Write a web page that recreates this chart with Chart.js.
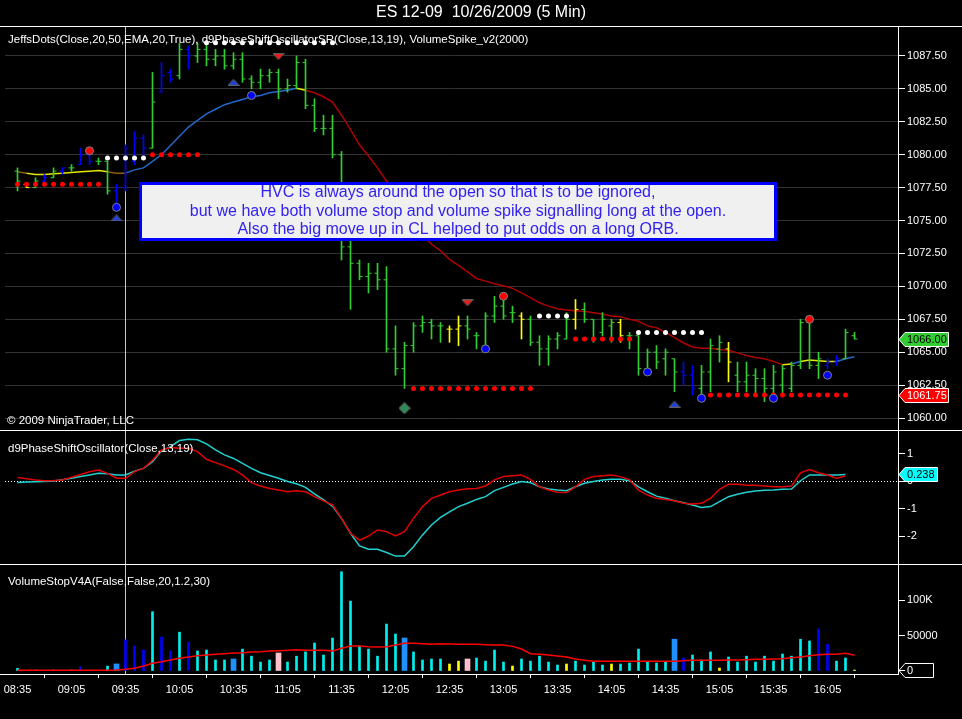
<!DOCTYPE html>
<html>
<head>
<meta charset="utf-8">
<title>ES 12-09 10/26/2009 (5 Min)</title>
<script src="https://cdn.jsdelivr.net/npm/chart.js@4.4.1/dist/chart.umd.min.js"></script>
<style>
  html, body { margin: 0; padding: 0; background: #000; overflow: hidden; }
  canvas { display: block; }
</style>
</head>
<body>
<canvas id="chart" width="962" height="719"></canvas>
<script>
// 5 min bars, index 0 = 08:35 ... 93 = 16:20
const tickBars = [0, 6, 12, 18, 24, 30, 36, 42, 48, 54, 60, 66, 72, 78, 84, 90];
const tickLabels = ['08:35', '09:05', '09:35', '10:05', '10:35', '11:05', '11:35', '12:05',
  '12:35', '13:05', '13:35', '14:05', '14:35', '15:05', '15:35', '16:05'];
const oscTicks = [1, 0, -1, -2];
const volTicks = [0, 50000, 100000];

const opens = [1078.75, 1077.75, 1077.5, 1078.0, 1078.25, 1078.75, 1079.0, 1079.25, 1080.0, 1079.5,
  1079.5, 1077.25, 1077.5, 1079.5, 1081.25, 1080.5, 1084.75, 1086.25, 1086.0, 1088.0,
  1087.5, 1088.0, 1087.25, 1087.5, 1086.75, 1087.25, 1085.75, 1085.5, 1086.0, 1086.25,
  1085.0, 1085.25, 1087.0, 1083.75, 1082.0, 1082.0, 1080.0, 1073.0, 1071.75, 1070.75,
  1071.0, 1070.5, 1065.25, 1063.75, 1065.5, 1067.0, 1067.25, 1067.0, 1066.75, 1066.75,
  1067.0, 1066.25, 1065.5, 1067.75, 1068.5, 1068.0, 1067.75, 1067.5, 1065.75, 1065.25,
  1066.0, 1066.0, 1067.5, 1068.25, 1067.5, 1066.5, 1067.0, 1067.25, 1066.25, 1066.25,
  1063.75, 1065.0, 1064.5, 1064.5, 1063.5, 1063.25, 1062.25, 1063.5, 1065.25, 1065.25,
  1063.25, 1062.75, 1063.25, 1063.0, 1062.25, 1062.5, 1062.25, 1064.0, 1067.25, 1064.0,
  1064.0, 1064.25, 1064.5, 1066.25];
const highs = [1079.0, 1077.75, 1078.25, 1078.5, 1079.0, 1079.0, 1079.25, 1080.5, 1080.0, 1079.75,
  1079.5, 1077.75, 1080.75, 1081.75, 1081.5, 1086.25, 1087.0, 1086.5, 1088.5, 1088.25,
  1088.5, 1088.5, 1088.0, 1088.0, 1087.75, 1087.75, 1086.0, 1086.5, 1086.5, 1086.5,
  1085.75, 1087.5, 1087.25, 1084.25, 1083.0, 1083.0, 1080.25, 1074.5, 1072.0, 1071.75,
  1071.75, 1071.5, 1067.0, 1065.75, 1067.25, 1067.75, 1067.5, 1067.25, 1067.0, 1067.75,
  1067.75, 1066.5, 1068.0, 1069.25, 1069.0, 1068.5, 1068.0, 1067.75, 1066.25, 1066.25,
  1066.5, 1068.0, 1069.0, 1068.75, 1067.5, 1068.0, 1067.5, 1067.5, 1066.5, 1066.25,
  1065.25, 1065.5, 1065.25, 1064.5, 1064.25, 1064.0, 1064.0, 1066.0, 1066.25, 1065.75,
  1064.25, 1064.25, 1063.75, 1063.75, 1064.0, 1064.0, 1064.25, 1067.5, 1067.5, 1065.0,
  1064.5, 1064.75, 1066.75, 1066.5];
const lows = [1077.25, 1077.5, 1077.5, 1077.75, 1078.25, 1078.5, 1078.75, 1079.25, 1079.25, 1079.25,
  1077.0, 1076.0, 1077.25, 1079.25, 1079.75, 1080.5, 1084.75, 1085.5, 1085.75, 1086.5,
  1087.0, 1086.75, 1086.75, 1086.5, 1086.5, 1085.5, 1085.0, 1085.0, 1085.5, 1084.25,
  1084.75, 1085.0, 1083.5, 1081.75, 1081.5, 1079.75, 1072.0, 1068.25, 1070.5, 1069.5,
  1069.75, 1065.0, 1063.25, 1062.25, 1065.0, 1066.5, 1066.0, 1065.75, 1065.75, 1065.5,
  1066.0, 1065.25, 1065.25, 1067.25, 1067.5, 1067.25, 1066.0, 1065.5, 1064.0, 1064.0,
  1065.25, 1066.0, 1066.75, 1067.25, 1065.75, 1066.25, 1065.75, 1065.75, 1065.25, 1063.25,
  1063.75, 1063.75, 1063.25, 1062.0, 1062.5, 1061.75, 1061.75, 1062.0, 1064.25, 1062.75,
  1062.0, 1062.0, 1061.75, 1061.25, 1061.75, 1061.75, 1062.0, 1063.75, 1063.75, 1063.0,
  1063.75, 1064.0, 1064.5, 1066.0];
const closes = [1078.0, 1077.5, 1078.0, 1078.25, 1078.75, 1079.0, 1079.0, 1080.0, 1079.5, 1079.5,
  1077.25, 1077.5, 1080.5, 1081.25, 1080.5, 1084.0, 1086.0, 1085.75, 1088.0, 1087.5,
  1088.0, 1087.25, 1087.5, 1086.75, 1087.25, 1085.75, 1085.5, 1086.0, 1086.25, 1085.0,
  1085.25, 1087.0, 1083.75, 1082.0, 1082.0, 1080.0, 1073.0, 1071.75, 1070.75, 1071.0,
  1070.5, 1065.25, 1063.75, 1065.5, 1067.0, 1067.25, 1067.0, 1067.0, 1066.75, 1067.0,
  1066.75, 1066.25, 1067.75, 1068.5, 1067.75, 1068.0, 1067.5, 1065.75, 1065.25, 1066.0,
  1066.25, 1067.5, 1068.25, 1067.5, 1066.0, 1067.5, 1067.25, 1066.25, 1066.25, 1063.75,
  1065.0, 1064.25, 1065.0, 1063.5, 1063.25, 1062.25, 1063.5, 1065.5, 1065.75, 1064.25,
  1062.75, 1063.25, 1063.0, 1062.25, 1063.5, 1063.75, 1064.0, 1067.25, 1064.0, 1064.5,
  1064.25, 1064.5, 1066.5, 1066.0];
// g = green, b = blue, y = yellow (JeffsDots bar colouring)
const barColor = ('gygbgbgbbggbbbbgbbgbg' + 'g'.repeat(27) + 'yyggggggyggggg' + 'ygggg' + 'yggggggbbggg' +
  'ygggggggggg' + 'bbggy').split('');

// moving average line and its trend state (o = turning, f = flat, u = up, d = down)
const ema = [1078.7, 1078.6, 1078.5, 1078.5, 1078.55, 1078.6, 1078.65, 1078.7, 1078.75, 1078.8,
  1078.7, 1078.6, 1078.6, 1078.85, 1079.0, 1079.5, 1080.0, 1080.7, 1081.4, 1082.1,
  1082.6, 1083.1, 1083.45, 1083.8, 1084.0, 1084.2, 1084.4, 1084.5, 1084.7, 1084.8,
  1084.9, 1085.05, 1084.9, 1084.7, 1084.4, 1084.0, 1083.0, 1081.9, 1080.75, 1079.9,
  1079.0, 1078.0, 1077.0, 1076.0, 1075.0, 1073.9, 1073.2, 1072.7, 1072.05, 1071.6,
  1071.1, 1070.6, 1070.4, 1070.2, 1070.05, 1069.85, 1069.5, 1069.15, 1068.75, 1068.5,
  1068.3, 1068.2, 1068.15, 1068.1, 1068.0, 1067.9, 1067.75, 1067.7, 1067.5, 1067.35,
  1067.0, 1066.85, 1066.5, 1066.1, 1065.7, 1065.4, 1065.3, 1065.3, 1065.2, 1065.15,
  1064.95, 1064.75, 1064.6, 1064.5, 1064.3, 1064.05, 1064.1, 1064.3, 1064.4, 1064.35,
  1064.3, 1064.3, 1064.5, 1064.65];
const emaTrend = ('o' + 'f'.repeat(9) + 'oo' + 'u'.repeat(19) + 'f' + 'd'.repeat(53) + 'fu' + 'ffff' + 'uuu').split('');

// stop dots, in runs of bars
const dotStart = [0, 10, 15, 21, 44, 58, 62, 69, 77];
const dotEnd = [9, 14, 20, 35, 57, 61, 68, 76, 92];
const dotLevel = [1077.75, 1079.75, 1080.0, 1088.5, 1062.25, 1067.75, 1066.0, 1066.5, 1061.75];
const dotSide = ['r', 'w', 'r', 'w', 'r', 'w', 'r', 'w', 'r'];

// signal markers
const redCircleBar = [8, 54, 88];
const redCircleAt = [1080.3, 1069.25, 1067.5];
const blueCircleBar = [11, 26, 52, 70, 76, 84, 90];
const blueCircleAt = [1076.0, 1084.5, 1065.25, 1063.5, 1061.5, 1061.5, 1063.25];
const blueTriBar = [11, 24, 73];
const blueTriAt = [1075.2, 1085.5, 1061.05];
const redTriBar = [29, 50];
const redTriAt = [1087.45, 1068.75];
const diamondBar = [43];
const diamondAt = [1060.75];

// d9PhaseShiftOscillator
const oscFast = [-0.05, -0.04, -0.03, -0.02, 0.0, 0.05, 0.1, 0.16, 0.22, 0.28,
  0.26, 0.22, 0.22, 0.36, 0.46, 0.7, 1.1, 1.25, 1.47, 1.52,
  1.5, 1.35, 1.13, 0.95, 0.82, 0.64, 0.46, 0.3, 0.2, 0.1,
  -0.02, -0.1, -0.23, -0.47, -0.69, -0.91, -1.36, -1.9, -2.36, -2.48,
  -2.48, -2.6, -2.73, -2.73, -2.39, -1.96, -1.6, -1.32, -1.12, -0.93,
  -0.81, -0.67, -0.57, -0.35, -0.23, -0.11, -0.02, -0.06, -0.21, -0.29,
  -0.33, -0.35, -0.21, -0.08, -0.02, 0.04, 0.06, 0.06, 0.01, -0.21,
  -0.39, -0.55, -0.63, -0.72, -0.79, -0.87, -0.96, -0.93, -0.75, -0.57,
  -0.48, -0.41, -0.36, -0.34, -0.33, -0.3, -0.29, 0.01, 0.22, 0.22,
  0.22, 0.22, 0.238, null];
const oscSlow = [0.13, 0.08, 0.04, 0.01, 0.02, 0.04, 0.14, 0.24, 0.34, 0.4,
  0.28, 0.1, 0.1, 0.34, 0.46, 0.76, 1.13, 1.22, 1.19, 1.19,
  1.07, 0.79, 0.67, 0.55, 0.42, 0.22, -0.06, -0.18, -0.27, -0.33,
  -0.39, -0.35, -0.39, -0.57, -0.72, -0.87, -1.36, -1.9, -2.15, -2.0,
  -1.78, -1.84, -2.0, -1.84, -1.36, -0.93, -0.63, -0.51, -0.39, -0.33,
  -0.28, -0.27, -0.18, 0.04, 0.16, 0.19, 0.22, 0.06, -0.21, -0.33,
  -0.41, -0.42, -0.21, 0.06, 0.16, 0.19, 0.22, 0.16, 0.04, -0.33,
  -0.51, -0.63, -0.67, -0.72, -0.81, -0.84, -0.81, -0.63, -0.3, -0.12,
  -0.12, -0.15, -0.15, -0.18, -0.21, -0.21, -0.18, 0.3, 0.42, 0.3,
  0.22, 0.1, 0.18, null];

// VolumeStopV4A
const volume = [3800, 900, 1400, 1200, 1300, 1000, 1400, 6000, 1200, 600,
  7000, 10000, 44000, 35400, 29700, 84000, 48000, 28300, 55000, 41000,
  28300, 29700, 15600, 15600, 17000, 31000, 21000, 12700, 15600, 25500,
  12700, 21000, 27000, 39600, 22600, 46700, 140600, 99000, 35400, 31000,
  21000, 66500, 52400, 46700, 27000, 15600, 17000, 17000, 9900, 14000,
  17000, 18400, 14000, 29700, 12700, 7000, 17000, 14000, 21000, 12700,
  8500, 9900, 14000, 8500, 12700, 8500, 9900, 9900, 11300, 31000,
  12700, 11300, 12700, 45000, 18400, 22600, 15600, 27000, 4200, 19800,
  12700, 21000, 12700, 21000, 14000, 24000, 21000, 45000, 42500, 59500,
  38000, 14000, 18400, 1400];
// c = cyan, b = blue, y = yellow, D = volume stop (wide blue), P = spike (wide pink)
const volColor = ('cccbcbcbbccDbbbcbbcb' + 'cccc' + 'D' + 'cccc' + 'P' + 'c'.repeat(13) + 'D' + 'cccc' +
  'yyP' + 'cccc' + 'y' + 'ccccc' + 'y' + 'cccc' + 'y' + 'cccccc' + 'Db' + 'ccc' + 'y' +
  'c'.repeat(10) + 'bbccy').split('');
const volAvg = [1000, 1000, 1000, 1000, 1000, 1000, 1000, 1000, 1000, 1000,
  1000, 1300, 2400, 3800, 7000, 10900, 13200, 15600, 17900, 19800,
  21700, 22700, 23600, 24500, 25500, 26000, 26900, 27400, 28300, 28800,
  29300, 30200, 29300, 29300, 29300, 28300, 32100, 35400, 35400, 34500,
  34000, 34500, 36800, 39200, 39200, 38700, 37800, 38700, 38200, 37800,
  37800, 37800, 37300, 36800, 36800, 34900, 31200, 24500, 23600, 22700,
  21200, 19800, 17000, 15100, 13700, 13700, 13700, 13700, 13700, 13700,
  13700, 13700, 13700, 13700, 14600, 15100, 15100, 15100, 15100, 15600,
  15600, 16000, 16500, 16500, 17000, 17500, 18900, 19800, 21700, 23100,
  23600, 23600, 25000, 22200];

const crossBar = 12;
const noteLines = [
  'HVC is always around the open so that is to be ignored,',
  'but we have both volume stop and volume spike signalling long at the open.',
  'Also the big move up in CL helped to put odds on a long ORB.'
];

const FONT = '"Liberation Sans", Arial, sans-serif';
const barPalette = { g: '#32CD32', b: '#0000FF', y: '#FFFF00' };
const trendPalette = { o: '#8B5A10', f: '#E6E600', u: '#2468C8', d: '#B00000' };
const volPalette = { c: '#00F0F0', b: '#0000FF', y: '#FFFF00', D: '#1E90FF', P: '#FFC0CB' };
const tickOff = 1.5 / 9;

function runPoints(side) {
  const pts = [];
  dotStart.forEach((s, k) => {
    if (dotSide[k] !== side) return;
    for (let i = s; i <= dotEnd[k]; i++) pts.push({ x: i, y: dotLevel[k] });
  });
  return pts;
}

function pairs(bars, vals) {
  return bars.map((b, k) => ({ x: b, y: vals[k] }));
}

function makeTriangle(fill, up) {
  const c = document.createElement('canvas');
  c.width = 12; c.height = 7;
  const g = c.getContext('2d');
  g.beginPath();
  if (up) { g.moveTo(6, 0.5); g.lineTo(11.5, 6.5); g.lineTo(0.5, 6.5); }
  else { g.moveTo(0.5, 0.5); g.lineTo(11.5, 0.5); g.lineTo(6, 6.5); }
  g.closePath();
  g.fillStyle = fill; g.fill();
  g.strokeStyle = '#606060'; g.lineWidth = 1; g.stroke();
  return c;
}

function makeDiamond(fill) {
  const c = document.createElement('canvas');
  c.width = 12; c.height = 12;
  const g = c.getContext('2d');
  g.beginPath();
  g.moveTo(6, 0.5); g.lineTo(11.5, 6); g.lineTo(6, 11.5); g.lineTo(0.5, 6);
  g.closePath();
  g.fillStyle = fill; g.fill();
  g.strokeStyle = '#707070'; g.lineWidth = 1; g.stroke();
  return c;
}

function drawTag(ctx, y, right, fill, border, text, textColor) {
  ctx.beginPath();
  ctx.moveTo(899, y);
  ctx.lineTo(905, y - 7);
  ctx.lineTo(right, y - 7);
  ctx.lineTo(right, y + 7);
  ctx.lineTo(905, y + 7);
  ctx.closePath();
  if (fill) { ctx.fillStyle = fill; ctx.fill(); }
  ctx.strokeStyle = border; ctx.lineWidth = 1; ctx.stroke();
  if (text) {
    ctx.fillStyle = textColor;
    ctx.font = '11px ' + FONT;
    ctx.textAlign = 'left';
    ctx.textBaseline = 'middle';
    ctx.fillText(text, 907, y + 0.5);
  }
}

const decor = {
  id: 'decor',
  beforeDatasetsDraw(chart) {
    const { ctx, chartArea, scales } = chart;
    ctx.save();
    // oscillator zero line
    const y0 = Math.round(scales.osc.getPixelForValue(0)) + 0.5;
    ctx.strokeStyle = '#ffffff';
    ctx.lineWidth = 1;
    ctx.setLineDash([1, 2]);
    ctx.beginPath();
    ctx.moveTo(chartArea.left, y0);
    ctx.lineTo(chartArea.right, y0);
    ctx.stroke();
    ctx.setLineDash([]);
    // vertical marker line
    const cx = Math.floor(scales.x.getPixelForValue(crossBar)) + 0.5;
    ctx.strokeStyle = '#c8c8c8';
    ctx.beginPath();
    ctx.moveTo(cx, chartArea.top);
    ctx.lineTo(cx, chartArea.bottom);
    ctx.stroke();
    ctx.restore();
  },
  afterDatasetsDraw(chart) {
    const { ctx } = chart;
    ctx.save();
    // text note
    ctx.fillStyle = '#F0F0F0';
    ctx.fillRect(140, 183, 636, 57);
    ctx.strokeStyle = '#0000FF';
    ctx.lineWidth = 3;
    ctx.strokeRect(140.5, 183.5, 635, 56);
    ctx.fillStyle = '#3322EE';
    ctx.font = '16px ' + FONT;
    ctx.textAlign = 'center';
    ctx.textBaseline = 'middle';
    noteLines.forEach((t, k) => ctx.fillText(t, 458, 193 + k * 18.5));
    ctx.restore();
  },
  afterDraw(chart) {
    const { ctx, scales, width } = chart;
    ctx.save();
    // panel separators
    ctx.strokeStyle = '#ffffff';
    ctx.lineWidth = 1;
    [chart.chartArea.top - 0.5, Math.round(scales.price.bottom) + 0.5, Math.round(scales.osc.bottom) + 0.5].forEach(y => {
      ctx.beginPath();
      ctx.moveTo(0, y);
      ctx.lineTo(width, y);
      ctx.stroke();
    });
    ctx.beginPath();
    ctx.moveTo(0, Math.round(scales.x.top) + 0.5);
    ctx.lineTo(chart.chartArea.left, Math.round(scales.x.top) + 0.5);
    ctx.stroke();

    // titles
    ctx.fillStyle = '#ffffff';
    ctx.textBaseline = 'middle';
    ctx.textAlign = 'center';
    ctx.font = '16px ' + FONT;
    ctx.fillText('ES 12-09  10/26/2009 (5 Min)', 481, 13);
    ctx.textAlign = 'left';
    ctx.font = '11.5px ' + FONT;
    ctx.fillText('JeffsDots(Close,20,50,EMA,20,True), d9PhaseShiftOscillatorSR(Close,13,19), VolumeSpike_v2(2000)', 8, 40);
    ctx.fillText('\u00A9 2009 NinjaTrader, LLC', 7, 421);
    ctx.fillText('d9PhaseShiftOscillator(Close,13,19)', 8, 449);
    ctx.fillText('VolumeStopV4A(False,False,20,1.2,30)', 8, 582);

    // value tags on the right axis
    const last = closes.length - 1;
    drawTag(ctx, Math.round(scales.price.getPixelForValue(closes[last])) + 0.5, 948.5, '#32CD32', '#ffffff',
      closes[last].toFixed(2), '#000000');
    const lastStop = dotLevel[dotLevel.length - 1];
    drawTag(ctx, Math.round(scales.price.getPixelForValue(lastStop)) + 0.5, 948.5, '#FF0000', '#ffffff',
      lastStop.toFixed(2), '#ffffff');
    const oscLast = oscFast[oscFast.length - 2];
    drawTag(ctx, Math.round(scales.osc.getPixelForValue(oscLast)) + 0.5, 937.5, '#00FFFF', '#ffffff',
      oscLast.toFixed(3), '#000000');
    drawTag(ctx, Math.round(scales.vol.getPixelForValue(volume[last])) + 0.5, 933.5, null, '#ffffff', '', '');
    ctx.restore();
  }
};

const priceBars = highs.map((h, i) => ({ x: i, y: [lows[i], h] }));
const thinVol = [];
const wideVol = [];
volume.forEach((v, i) => {
  if (volColor[i] === 'D' || volColor[i] === 'P') wideVol.push({ x: i, y: v, c: volColor[i] });
  else thinVol.push({ x: i, y: v, c: volColor[i] });
});

const data = {
  datasets: [
    {
      type: 'line',
      label: 'ema',
      data: ema.map((v, i) => ({ x: i, y: v })),
      yAxisID: 'price',
      borderWidth: 1.5,
      borderColor: '#B00000',
      pointRadius: 0,
      segment: { borderColor: ctx => trendPalette[emaTrend[ctx.p0DataIndex]] },
      order: 9
    },
    {
      type: 'bar',
      label: 'range',
      data: priceBars,
      yAxisID: 'price',
      barThickness: 1,
      grouped: false,
      borderWidth: 0,
      backgroundColor: ctx => barPalette[barColor[ctx.dataIndex]],
      order: 8
    },
    {
      type: 'scatter',
      label: 'open',
      data: opens.map((o, i) => ({ x: i - tickOff, y: o })),
      yAxisID: 'price',
      pointStyle: 'line',
      pointRadius: 1.5,
      pointBorderWidth: 1,
      pointBorderColor: ctx => barPalette[barColor[ctx.dataIndex]],
      order: 7
    },
    {
      type: 'scatter',
      label: 'close',
      data: closes.map((c, i) => ({ x: i + tickOff, y: c })),
      yAxisID: 'price',
      pointStyle: 'line',
      pointRadius: 1.5,
      pointBorderWidth: 1,
      pointBorderColor: ctx => barPalette[barColor[ctx.dataIndex]],
      order: 7
    },
    {
      type: 'scatter',
      label: 'stop red',
      data: runPoints('r'),
      yAxisID: 'price',
      pointRadius: 2.5,
      pointBorderWidth: 0,
      pointBackgroundColor: '#FF0000',
      order: 5
    },
    {
      type: 'scatter',
      label: 'stop white',
      data: runPoints('w'),
      yAxisID: 'price',
      pointRadius: 2.5,
      pointBorderWidth: 0,
      pointBackgroundColor: '#FFFFFF',
      order: 5
    },
    {
      type: 'scatter',
      label: 'red circles',
      data: pairs(redCircleBar, redCircleAt),
      yAxisID: 'price',
      pointRadius: 4,
      pointBorderWidth: 1,
      pointBackgroundColor: '#FF0000',
      pointBorderColor: '#808080',
      order: 4
    },
    {
      type: 'scatter',
      label: 'blue circles',
      data: pairs(blueCircleBar, blueCircleAt),
      yAxisID: 'price',
      pointRadius: 4,
      pointBorderWidth: 1,
      pointBackgroundColor: '#0000FF',
      pointBorderColor: '#808080',
      order: 4
    },
    {
      type: 'scatter',
      label: 'up triangles',
      data: pairs(blueTriBar, blueTriAt),
      yAxisID: 'price',
      pointStyle: makeTriangle('#2040E0', true),
      order: 4
    },
    {
      type: 'scatter',
      label: 'down triangles',
      data: pairs(redTriBar, redTriAt),
      yAxisID: 'price',
      pointStyle: makeTriangle('#F01818', false),
      order: 4
    },
    {
      type: 'scatter',
      label: 'diamond',
      data: pairs(diamondBar, diamondAt),
      yAxisID: 'price',
      pointStyle: makeDiamond('#2E8B57'),
      order: 4
    },
    {
      type: 'line',
      label: 'osc fast',
      data: oscFast.map((v, i) => ({ x: i, y: v })),
      yAxisID: 'osc',
      borderColor: '#20D0D0',
      borderWidth: 1.5,
      pointRadius: 0,
      order: 3
    },
    {
      type: 'line',
      label: 'osc slow',
      data: oscSlow.map((v, i) => ({ x: i, y: v })),
      yAxisID: 'osc',
      borderColor: '#E00000',
      borderWidth: 1.5,
      pointRadius: 0,
      order: 2
    },
    {
      type: 'bar',
      label: 'volume',
      data: thinVol,
      yAxisID: 'vol',
      barThickness: 2,
      grouped: false,
      borderWidth: 0,
      backgroundColor: ctx => volPalette[ctx.raw.c],
      order: 6
    },
    {
      type: 'bar',
      label: 'volume stop',
      data: wideVol,
      yAxisID: 'vol',
      barThickness: 5,
      grouped: false,
      borderWidth: 0,
      backgroundColor: ctx => volPalette[ctx.raw.c],
      order: 6
    },
    {
      type: 'line',
      label: 'volume avg',
      data: volAvg.map((v, i) => ({ x: i, y: v })),
      yAxisID: 'vol',
      borderColor: '#FF0000',
      borderWidth: 1.5,
      pointRadius: 0,
      order: 1
    }
  ]
};

const axisFont = { family: FONT, size: 11 };

const config = {
  type: 'scatter',
  data: data,
  options: {
    responsive: false,
    devicePixelRatio: 1,
    animation: false,
    events: [],
    layout: { padding: { left: 5, top: 27, right: 0, bottom: 0 } },
    plugins: { legend: { display: false }, tooltip: { enabled: false } },
    scales: {
      x: {
        type: 'linear',
        position: 'bottom',
        min: -12.5 / 9,
        max: 880.5 / 9,
        offset: false,
        grid: { drawOnChartArea: false, tickLength: 4, tickColor: '#ffffff' },
        border: { color: '#ffffff' },
        ticks: {
          color: '#ffffff',
          font: axisFont,
          padding: 5,
          maxRotation: 0,
          autoSkip: false,
          callback: v => tickLabels[tickBars.indexOf(v)] || ''
        },
        afterBuildTicks: s => { s.ticks = tickBars.map(v => ({ value: v })); },
        afterFit: s => { s.height = 45; s.paddingLeft = 0; s.paddingRight = 0; }
      },
      price: {
        type: 'linear',
        position: 'right',
        stack: 'panes',
        stackWeight: 403,
        offset: false,
        min: 1059.09,
        max: 1089.70,
        grid: { color: '#333333', tickColor: '#ffffff', tickLength: 7 },
        border: { color: '#ffffff' },
        ticks: {
          stepSize: 2.5,
          includeBounds: false,
          color: '#ffffff',
          font: axisFont,
          padding: 2,
          callback: v => v.toFixed(2)
        },
        afterFit: s => { s.width = 64; }
      },
      osc: {
        type: 'linear',
        position: 'right',
        stack: 'panes',
        stackWeight: 134,
        offset: false,
        min: -3.018,
        max: 1.855,
        grid: { drawOnChartArea: false, tickColor: '#ffffff', tickLength: 7 },
        border: { color: '#ffffff' },
        ticks: { color: '#ffffff', font: axisFont, padding: 2, callback: v => String(v) },
        afterBuildTicks: s => { s.ticks = oscTicks.map(v => ({ value: v })); },
        afterFit: s => { s.width = 64; }
      },
      vol: {
        type: 'linear',
        position: 'right',
        stack: 'panes',
        stackWeight: 110,
        offset: false,
        min: -4250,
        max: 151558,
        grid: { drawOnChartArea: false, tickColor: '#ffffff', tickLength: 7 },
        border: { color: '#ffffff' },
        ticks: {
          color: '#ffffff',
          font: axisFont,
          padding: 2,
          callback: v => (v >= 100000 ? (v / 1000) + 'K' : String(v))
        },
        afterBuildTicks: s => { s.ticks = volTicks.map(v => ({ value: v })); },
        afterFit: s => { s.width = 64; }
      }
    }
  },
  plugins: [decor]
};

var chart = new Chart(document.getElementById('chart').getContext('2d'), config);
</script>
</body>
</html>
